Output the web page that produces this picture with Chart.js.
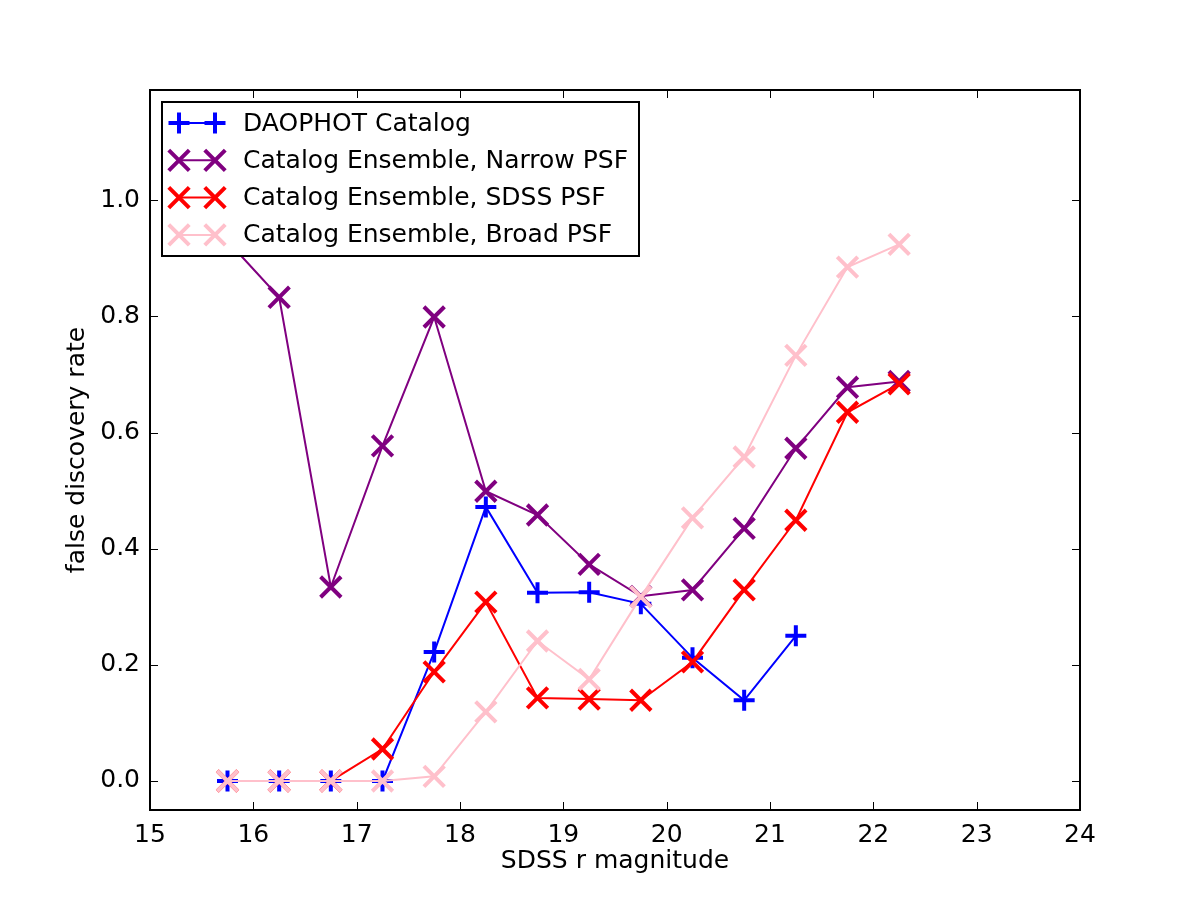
<!DOCTYPE html>
<html>
<head>
<meta charset="utf-8">
<script src="https://cdn.jsdelivr.net/npm/chart.js@4.4.1/dist/chart.umd.min.js"></script>
<style>
  html, body { margin: 0; padding: 0; background: #fff; }
  #wrap { width: 1200px; height: 900px; }
</style>
</head>
<body>
<div id="wrap"><canvas id="myChart" width="1200" height="900"></canvas></div>
<script>
// magnitude bin centres
var magnitudes = [15.75, 16.25, 16.75, 17.25, 17.75, 18.25, 18.75, 19.25, 19.75, 20.25, 20.75, 21.25, 21.75, 22.25];

// false discovery rate per bin
var daophot = [0, 0, 0, 0, 0.222, 0.472, 0.324, 0.325, 0.305, 0.212, 0.139, 0.250];
var narrowPsf = [0.93, 0.833, 0.334, 0.577, 0.799, 0.499, 0.458, 0.373, 0.318, 0.329, 0.435, 0.573, 0.678, 0.688];
var sdssPsf = [0, 0, 0, 0.055, 0.188, 0.308, 0.143, 0.141, 0.139, 0.205, 0.329, 0.449, 0.635, 0.684];
var broadPsf = [0, 0, 0, 0, 0.008, 0.119, 0.241, 0.175, 0.317, 0.453, 0.558, 0.733, 0.885, 0.924];

var seriesNames = ['DAOPHOT Catalog', 'Catalog Ensemble, Narrow PSF', 'Catalog Ensemble, SDSS PSF', 'Catalog Ensemble, Broad PSF'];

// tick labels
var xTicks = [15, 16, 17, 18, 19, 20, 21, 22, 23, 24];
var yTicks = [0, 0.2, 0.4, 0.6, 0.8, 1.0];

function toPoints(values) {
    return values.map(function (v, i) { return { x: magnitudes[i], y: v }; });
}

function series(i, values, color, marker, radius, order) {
    return {
        label: seriesNames[i],
        data: toPoints(values),
        borderColor: color,
        backgroundColor: color,
        borderWidth: 2,
        pointStyle: marker,
        pointRadius: radius,
        pointHoverRadius: radius,
        pointBorderWidth: 4,
        pointBorderColor: color,
        tension: 0,
        fill: false,
        order: order
    };
}

// frame, inward ticks and legend, matplotlib classic look
var framePlugin = {
    id: 'frame',
    afterDraw: function (chart) {
        var ctx = chart.ctx;
        var a = chart.chartArea;
        var xs = chart.scales.x, ys = chart.scales.y;
        ctx.save();
        ctx.strokeStyle = '#000';
        ctx.lineWidth = 1;
        ctx.beginPath();
        xTicks.forEach(function (t) {
            var px = Math.round(xs.getPixelForValue(t)) + 0.5;
            ctx.moveTo(px, a.bottom); ctx.lineTo(px, a.bottom - 8);
            ctx.moveTo(px, a.top); ctx.lineTo(px, a.top + 8);
        });
        yTicks.forEach(function (t) {
            var py = Math.round(ys.getPixelForValue(t)) + 0.5;
            ctx.moveTo(a.left, py); ctx.lineTo(a.left + 8, py);
            ctx.moveTo(a.right, py); ctx.lineTo(a.right - 8, py);
        });
        ctx.stroke();
        ctx.lineWidth = 2;
        ctx.strokeRect(a.left, a.top, a.right - a.left, a.bottom - a.top);

        // legend box
        var lx = 162, ly = 102, lw = 477, lh = 154;
        ctx.fillStyle = '#fff';
        ctx.fillRect(lx, ly, lw, lh);
        ctx.strokeStyle = '#000';
        ctx.lineWidth = 2;
        ctx.strokeRect(lx, ly, lw, lh);
        chart.data.datasets.forEach(function (ds, i) {
            var y = 123 + i * 37.3;
            ctx.strokeStyle = ds.borderColor;
            ctx.lineWidth = 2;
            ctx.beginPath();
            ctx.moveTo(179, y); ctx.lineTo(215, y);
            ctx.stroke();
            ctx.lineWidth = ds.pointBorderWidth;
            [179, 215].forEach(function (mx) {
                var r = ds.pointRadius;
                ctx.beginPath();
                if (ds.pointStyle === 'cross') {
                    ctx.moveTo(mx - r, y); ctx.lineTo(mx + r, y);
                    ctx.moveTo(mx, y - r); ctx.lineTo(mx, y + r);
                } else {
                    var d = r * Math.SQRT1_2;
                    ctx.moveTo(mx - d, y - d); ctx.lineTo(mx + d, y + d);
                    ctx.moveTo(mx - d, y + d); ctx.lineTo(mx + d, y - d);
                }
                ctx.stroke();
            });
            ctx.fillStyle = '#000';
            ctx.font = '25px "DejaVu Sans"';
            ctx.textBaseline = 'middle';
            ctx.textAlign = 'left';
            ctx.fillText(ds.label, 243, y + 1);
        });
        ctx.restore();
    }
};

Chart.defaults.font.family = '"DejaVu Sans", sans-serif';
Chart.defaults.color = '#000';

var ctx = document.getElementById('myChart').getContext('2d');
var myChart = new Chart(ctx, {
    type: 'line',
    data: {
        datasets: [
            series(0, daophot, '#0000ff', 'cross', 10.5, 4),
            series(1, narrowPsf, '#800080', 'crossRot', 14.5, 3),
            series(2, sdssPsf, '#ff0000', 'crossRot', 14.5, 2),
            series(3, broadPsf, '#ffc0cb', 'crossRot', 14.5, 1)
        ]
    },
    options: {
        responsive: false,
        animation: false,
        devicePixelRatio: 1,
        layout: {
            padding: { left: 62, top: 90, right: 120, bottom: 0 }
        },
        plugins: {
            legend: { display: false },
            tooltip: { enabled: false }
        },
        scales: {
            x: {
                type: 'linear',
                min: 15,
                max: 24,
                grid: { display: false, drawTicks: false },
                border: { display: false },
                afterBuildTicks: function (scale) {
                    scale.ticks = xTicks.map(function (v) { return { value: v }; });
                },
                afterFit: function (scale) { scale.height = 90; },
                ticks: {
                    padding: 10,
                    maxRotation: 0,
                    font: { size: 25 },
                    callback: function (v) { return String(v); }
                },
                title: {
                    display: true,
                    text: 'SDSS r magnitude',
                    font: { size: 25 },
                    padding: { top: 0, bottom: 24 }
                }
            },
            y: {
                type: 'linear',
                min: -0.05,
                max: 1.19,
                grid: { display: false, drawTicks: false },
                border: { display: false },
                afterBuildTicks: function (scale) {
                    scale.ticks = yTicks.map(function (v) { return { value: v }; });
                },
                afterFit: function (scale) { scale.width = 88; },
                ticks: {
                    padding: 10,
                    font: { size: 25 },
                    callback: function (v) { return v.toFixed(1); }
                },
                title: {
                    display: true,
                    text: 'false discovery rate',
                    font: { size: 25 },
                    padding: 0
                }
            }
        }
    },
    plugins: [framePlugin]
});
</script>
</body>
</html>
